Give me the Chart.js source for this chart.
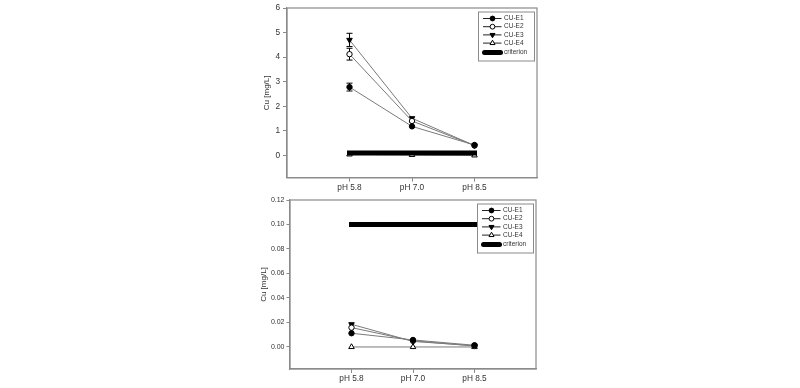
<!DOCTYPE html>
<html>
<head>
<meta charset="utf-8">
<script src="https://cdn.jsdelivr.net/npm/chart.js@4.4.0/dist/chart.umd.min.js"></script>
<style>
    body { margin: 0; background: #ffffff; width: 800px; height: 388px; overflow: hidden; }
    canvas { position: absolute; }
</style>
</head>
<body>
<canvas id="chartTop" width="310" height="195" style="left:240px; top:0px;"></canvas>
<canvas id="chartBottom" width="310" height="193" style="left:240px; top:195px;"></canvas>
<script>
// categories
const phLabels = ['pH 5.8', 'pH 7.0', 'pH 8.5'];
const seriesNames = ['CU-E1', 'CU-E2', 'CU-E3', 'CU-E4', 'criterion'];

// upper panel (mg/L)
const topE1 = [2.78, 1.18, 0.42];
const topE2 = [4.12, 1.40, 0.40];
const topE3 = [4.70, 1.51, 0.40];
const topE4 = [0.04, 0.02, 0.0];
const topCriterion = [0.1, 0.1, 0.1];
const topErrE1 = [0.16, 0, 0];
const topErrE2 = [0.24, 0, 0];
const topErrE3 = [0.27, 0, 0];
const topYTicks = [0, 1, 2, 3, 4, 5, 6];

// lower panel (mg/L)
const botE1 = [0.0112, 0.0057, 0.0014];
const botE2 = [0.0158, 0.0050, 0.0008];
const botE3 = [0.0185, 0.0045, 0.0010];
const botE4 = [0.0, 0.0, 0.0];
const botCriterion = [0.1, 0.1, 0.1];
const botYTicks = [0, 0.02, 0.04, 0.06, 0.08, 0.10, 0.12];

const fontFam = '"Liberation Sans", Arial, sans-serif';
const textColor = '#333333';
const frameColor = '#8a8a8a';

function toPoints(values) {
    return values.map(function (v, i) { return { x: i + 1, y: v }; });
}

function makeDatasets(e1, e2, e3, e4, crit, errs) {
    var marker = [
        { style: 'circle', fill: '#000000', rot: 0, r: 2.7 },
        { style: 'circle', fill: '#ffffff', rot: 0, r: 2.7 },
        { style: 'triangle', fill: '#000000', rot: 180, r: 3.2 },
        { style: 'triangle', fill: '#ffffff', rot: 0, r: 3.2 }
    ];
    var sets = [e1, e2, e3, e4].map(function (vals, i) {
        return {
            label: seriesNames[i],
            data: toPoints(vals),
            errors: errs ? errs[i] : null,
            borderColor: '#7a7a7a',
            borderWidth: 1,
            pointStyle: marker[i].style,
            pointRotation: marker[i].rot,
            pointRadius: marker[i].r,
            pointBackgroundColor: marker[i].fill,
            pointBorderColor: '#000000',
            pointBorderWidth: 1,
            order: i + 1
        };
    });
    sets.push({
        label: seriesNames[4],
        data: toPoints(crit),
        borderColor: '#000000',
        borderWidth: 5,
        borderCapStyle: 'square',
        pointRadius: 0,
        isCriterion: true,
        order: 0
    });
    return sets;
}

// frame, error bars and the boxed legend
const panelPlugin = {
    id: 'panelPlugin',
    beforeDatasetsDraw: function (chart) {
        var ctx = chart.ctx;
        var area = chart.chartArea;
        ctx.save();
        ctx.strokeStyle = frameColor;
        ctx.lineWidth = 1.2;
        ctx.strokeRect(area.left, area.top, area.right - area.left, area.bottom - area.top);

        var xs = chart.scales.x, ys = chart.scales.y;
        ctx.strokeStyle = '#000000';
        ctx.lineWidth = 1;
        chart.data.datasets.forEach(function (ds) {
            if (!ds.errors) return;
            ds.data.forEach(function (p, i) {
                var e = ds.errors[i];
                if (!e) return;
                var px = xs.getPixelForValue(p.x);
                var yHi = ys.getPixelForValue(p.y + e);
                var yLo = ys.getPixelForValue(p.y - e);
                ctx.beginPath();
                ctx.moveTo(px, yHi); ctx.lineTo(px, yLo);
                ctx.moveTo(px - 3, yHi); ctx.lineTo(px + 3, yHi);
                ctx.moveTo(px - 3, yLo); ctx.lineTo(px + 3, yLo);
                ctx.stroke();
            });
        });
        ctx.restore();
    },
    afterDraw: function (chart) {
        var ctx = chart.ctx;
        var area = chart.chartArea;
        var boxW = 56, boxH = 49;
        var bx = area.right - 2.5 - boxW;
        var by = area.top + 4;
        ctx.save();
        ctx.fillStyle = '#ffffff';
        ctx.fillRect(bx, by, boxW, boxH);
        ctx.strokeStyle = frameColor;
        ctx.lineWidth = 1;
        ctx.strokeRect(bx, by, boxW, boxH);
        var rows = [6.5, 14.7, 22.9, 31.1, 40.5];
        ctx.font = '6.5px ' + fontFam;
        ctx.textBaseline = 'middle';
        chart.data.datasets.forEach(function (ds, i) {
            var ry = by + rows[i];
            ctx.beginPath();
            if (ds.isCriterion) {
                ctx.strokeStyle = '#000000';
                ctx.lineWidth = 5;
                ctx.lineCap = 'round';
                ctx.moveTo(bx + 6, ry); ctx.lineTo(bx + 22, ry);
                ctx.stroke();
            } else {
                ctx.strokeStyle = '#222222';
                ctx.lineWidth = 1;
                ctx.lineCap = 'butt';
                ctx.moveTo(bx + 4.5, ry); ctx.lineTo(bx + 23, ry);
                ctx.stroke();
                ctx.fillStyle = ds.pointBackgroundColor;
                ctx.strokeStyle = '#000000';
                Chart.helpers.drawPoint(ctx, {
                    pointStyle: ds.pointStyle,
                    rotation: ds.pointRotation,
                    radius: ds.pointRadius - 0.3,
                    borderWidth: 1
                }, bx + 14, ry);
            }
            ctx.fillStyle = textColor;
            ctx.fillText(ds.label, bx + 25.5, ry);
        });
        ctx.restore();
    }
};

function makeChart(canvasId, datasets, yMin, yMax, yTicks, tickFmt, yTickStyle, pad, yWidth, xHeight, titlePad) {
    const ctx = document.getElementById(canvasId).getContext('2d');
    return new Chart(ctx, {
        type: 'line',
        data: { datasets: datasets },
        plugins: [panelPlugin],
        options: {
            responsive: false,
            animation: false,
            devicePixelRatio: 1,
            layout: { padding: pad },
            plugins: {
                legend: { display: false },
                tooltip: { enabled: false }
            },
            scales: {
                x: {
                    type: 'linear',
                    min: 0,
                    max: 4,
                    afterBuildTicks: function (scale) {
                        scale.ticks = phLabels.map(function (l, i) { return { value: i + 1 }; });
                    },
                    afterFit: function (scale) {
                        scale.height = xHeight;
                        scale.paddingLeft = 0;
                        scale.paddingRight = 0;
                    },
                    ticks: {
                        callback: function (value) { return phLabels[value - 1]; },
                        color: textColor,
                        font: { family: fontFam, size: 8.3 },
                        padding: 1,
                        maxRotation: 0
                    },
                    grid: { drawOnChartArea: false, drawTicks: true, tickLength: 4, color: frameColor },
                    border: { display: true, color: frameColor, width: 1.2 }
                },
                y: {
                    min: yMin,
                    max: yMax,
                    afterBuildTicks: function (scale) {
                        scale.ticks = yTicks.map(function (v) { return { value: v }; });
                    },
                    afterFit: function (scale) {
                        scale.width = yWidth;
                        scale.paddingTop = 0;
                        scale.paddingBottom = 0;
                    },
                    ticks: {
                        callback: tickFmt,
                        color: textColor,
                        font: { family: fontFam, size: yTickStyle.size },
                        padding: yTickStyle.pad
                    },
                    grid: { drawOnChartArea: false, drawTicks: true, tickLength: yTickStyle.len, color: frameColor },
                    border: { display: true, color: frameColor, width: 1.2 },
                    title: {
                        display: true,
                        text: 'Cu [mg/L]',
                        color: textColor,
                        font: { family: fontFam, size: 8 },
                        padding: { top: titlePad, bottom: 0 }
                    }
                }
            }
        }
    });
}

const topChart = makeChart('chartTop',
    makeDatasets(topE1, topE2, topE3, topE4, topCriterion, [topErrE1, topErrE2, topErrE3, null]),
    -0.91, 6, topYTicks,
    function (v) { return String(v); }, { size: 8.3, pad: 3, len: 4 },
    { left: 0, top: 8, right: 13, bottom: 0 }, 47, 17.3, 22);

const bottomChart = makeChart('chartBottom',
    makeDatasets(botE1, botE2, botE3, botE4, botCriterion, null),
    -0.018, 0.12, botYTicks,
    function (v) { return v.toFixed(2); }, { size: 7, pad: 2, len: 3.5 },
    { left: 0, top: 5, right: 14, bottom: 0 }, 50, 19, 19);
</script>
</body>
</html>
